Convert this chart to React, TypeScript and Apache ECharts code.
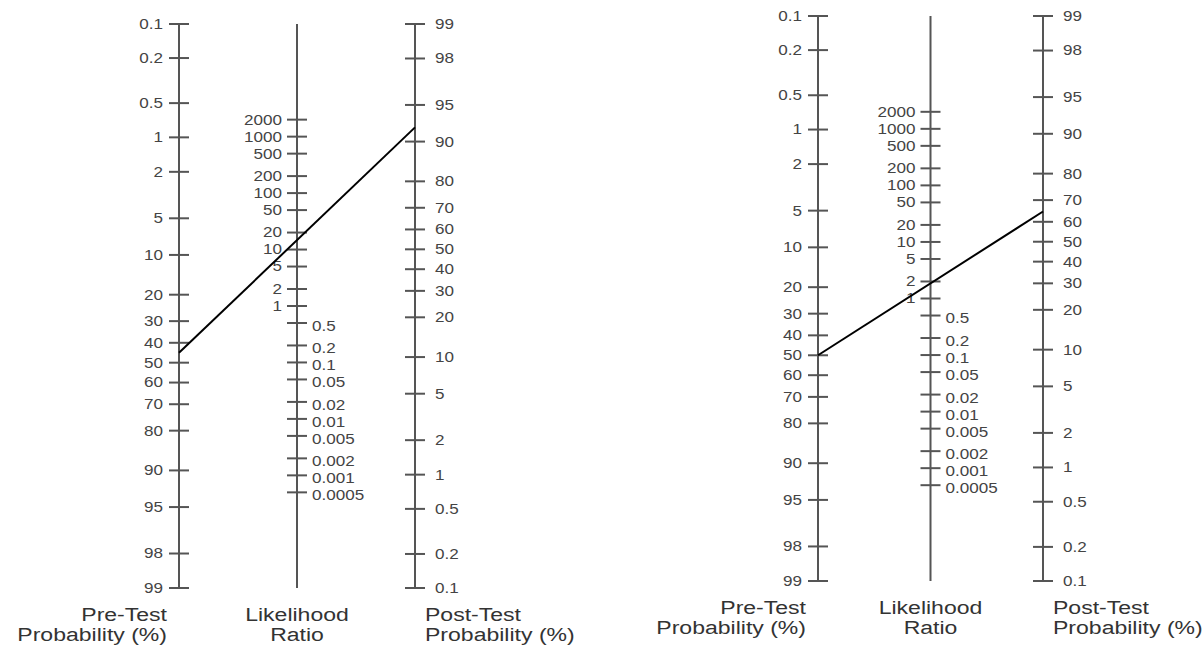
import React, { useEffect, useRef } from "react";
import * as echarts from "echarts";

// ---- data ----
const preTicks = [0.1, 0.2, 0.5, 1, 2, 5, 10, 20, 30, 40, 50, 60, 70, 80, 90, 95, 98, 99];
const postTicks = [99, 98, 95, 90, 80, 70, 60, 50, 40, 30, 20, 10, 5, 2, 1, 0.5, 0.2, 0.1];
const lrHighTicks = [2000, 1000, 500, 200, 100, 50, 20, 10, 5, 2, 1];
const lrLowTicks = [0.5, 0.2, 0.1, 0.05, 0.02, 0.01, 0.005, 0.002, 0.001, 0.0005];
const preTitle = ["Pre-Test", "Probability (%)"];
const lrTitle = ["Likelihood", "Ratio"];
const postTitle = ["Post-Test", "Probability (%)"];
// one entry per nomogram (left, right)
const preTestProbs = [45, 50];
const likelihoodRatios = [14.7, 1.85];

const FONT = "'Liberation Sans', Arial, Helvetica, sans-serif";
const AXIS_COLOR = "#555555";
const LABEL_COLOR = "#444444";
const TITLE_COLOR = "#333333";
const TICK_STRETCH = 1.22;
const TITLE_STRETCH = 1.28;

const logit = (p: number) => Math.log(p / (1 - p));
const U_MIN = logit(0.001);
const U_MAX = logit(0.99);
const U_SUM = U_MIN + U_MAX;
const uPre = (pct: number) => logit(pct / 100);
const uPost = (pct: number) => U_SUM - logit(pct / 100);
const uLR = (lr: number) => U_SUM / 2 - Math.log(lr) / 2;

type Tick = { x: number; u: number; text: string; side: string };

function buildSeries(gi: number, pre: number, lr: number): any[] {
  const ticks: Tick[] = [];
  preTicks.forEach((v) => ticks.push({ x: 0, u: uPre(v), text: String(v), side: "l" }));
  lrHighTicks.forEach((v) => ticks.push({ x: 1, u: uLR(v), text: String(v), side: "ml" }));
  lrLowTicks.forEach((v) => ticks.push({ x: 1, u: uLR(v), text: String(v), side: "mr" }));
  postTicks.forEach((v) => ticks.push({ x: 2, u: uPost(v), text: String(v), side: "r" }));

  const titles = [preTitle, lrTitle, postTitle];

  const axisSeries = {
    type: "custom",
    xAxisIndex: gi,
    yAxisIndex: gi,
    clip: false,
    silent: true,
    data: [[0], [1], [2]],
    renderItem: (params: any, api: any) => {
      const x = api.value(0);
      const a = api.coord([x, U_MIN]);
      const b = api.coord([x, U_MAX]);
      return {
        type: "line",
        shape: { x1: a[0], y1: a[1], x2: b[0], y2: b[1] },
        style: { stroke: AXIS_COLOR, lineWidth: 2 },
      };
    },
  };

  const tickSeries = {
    type: "custom",
    xAxisIndex: gi,
    yAxisIndex: gi,
    clip: false,
    silent: true,
    data: ticks.map((t) => [t.x, t.u]),
    renderItem: (params: any, api: any) => {
      const t = ticks[params.dataIndex];
      const p = api.coord([api.value(0), api.value(1)]);
      let dx = 0;
      let dy = 0;
      let align = "left";
      if (t.side === "l") { dx = -16; align = "right"; }
      else if (t.side === "ml") { dx = -15; align = "right"; }
      else if (t.side === "mr") { dx = 15; dy = 3; align = "left"; }
      else { dx = 20; align = "left"; }
      return {
        type: "group",
        children: [
          {
            type: "line",
            shape: { x1: p[0] - 10, y1: p[1], x2: p[0] + 10, y2: p[1] },
            style: { stroke: AXIS_COLOR, lineWidth: 2 },
          },
          {
            type: "text",
            x: p[0] + dx,
            y: p[1] + dy,
            scaleX: TICK_STRETCH,
            style: {
              text: t.text,
              align,
              verticalAlign: "middle",
              fill: LABEL_COLOR,
              fontSize: 14,
              fontFamily: FONT,
            },
          },
        ],
      };
    },
  };

  const titleSeries = {
    type: "custom",
    xAxisIndex: gi,
    yAxisIndex: gi,
    clip: false,
    silent: true,
    data: [[0], [1], [2]],
    renderItem: (params: any, api: any) => {
      const i = params.dataIndex;
      const p = api.coord([api.value(0), U_MAX]);
      let dx = 0;
      let align = "center";
      if (i === 0) { dx = -12; align = "right"; }
      else if (i === 2) { dx = 10; align = "left"; }
      return {
        type: "group",
        children: titles[i].map((s, k) => ({
          type: "text",
          x: p[0] + dx,
          y: p[1] + 26 + k * 20,
          scaleX: TITLE_STRETCH,
          style: {
            text: s,
            align,
            verticalAlign: "middle",
            fill: TITLE_COLOR,
            fontSize: 18,
            fontFamily: FONT,
          },
        })),
      };
    },
  };

  const postLogit = logit(pre / 100) + Math.log(lr);
  const lineSeries = {
    type: "line",
    xAxisIndex: gi,
    yAxisIndex: gi,
    clip: false,
    silent: true,
    symbol: "none",
    lineStyle: { color: "#000000", width: 2 },
    data: [
      [0, uPre(pre)],
      [2, U_SUM - postLogit],
    ],
    z: 5,
  };

  return [axisSeries, tickSeries, titleSeries, lineSeries];
}

export default function App() {
  const ref = useRef<HTMLDivElement>(null);
  useEffect(() => {
    if (!ref.current) return;
    const chart = echarts.init(ref.current, undefined, { renderer: "svg" });
    const grids = [
      { left: 179, top: 24, width: 236, height: 564 },
      { left: 818, top: 16, width: 225, height: 565 },
    ];
    chart.setOption({
      animation: false,
      backgroundColor: "#ffffff",
      grid: grids,
      xAxis: grids.map((_, i) => ({ gridIndex: i, type: "value", min: 0, max: 2, show: false })),
      yAxis: grids.map((_, i) => ({
        gridIndex: i,
        type: "value",
        min: U_MIN,
        max: U_MAX,
        inverse: true,
        show: false,
      })),
      series: [
        ...buildSeries(0, preTestProbs[0], likelihoodRatios[0]),
        ...buildSeries(1, preTestProbs[1], likelihoodRatios[1]),
      ],
    });
    return () => chart.dispose();
  }, []);
  return (
    <div
      ref={ref}
      style={{ position: "fixed", left: 0, top: 0, width: 1204, height: 646, background: "#fff" }}
    />
  );
}
